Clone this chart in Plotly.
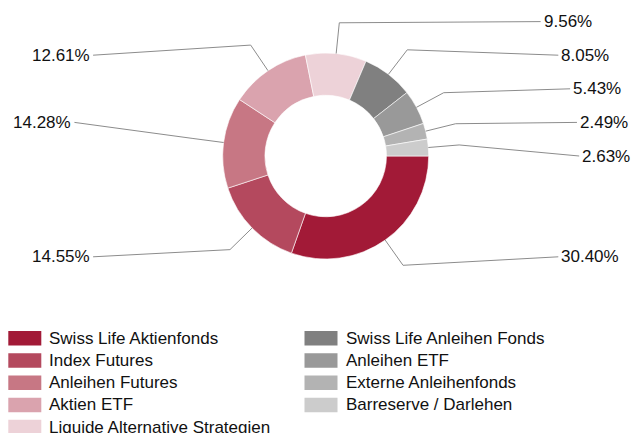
import math
import plotly.graph_objects as go

# ---------------- data ----------------
categories = [
    "Swiss Life Aktienfonds",
    "Index Futures",
    "Anleihen Futures",
    "Aktien ETF",
    "Liquide Alternative Strategien",
    "Swiss Life Anleihen Fonds",
    "Anleihen ETF",
    "Externe Anleihenfonds",
    "Barreserve / Darlehen",
]
values = [30.40, 14.55, 14.28, 12.61, 9.56, 8.05, 5.43, 2.49, 2.63]
colors = [
    "#A21A37", "#B4495E", "#C77784", "#DAA3AE", "#EDD2D8",
    "#808080", "#999999", "#B3B3B3", "#CCCCCC",
]

# ---------------- layout constants (pixels) ----------------
W, H = 634, 433
CX, CY, R = 325.7, 156.0, 103.0      # donut centre / outer radius
HOLE = 0.59
ELBOW_R = 1.30 * R                   # connector elbow radius
LABEL_R = 253.5                      # label anchor radius
SLOT_H = 33.6                        # vertical label slot spacing
FONT = "Liberation Sans, Arial, sans-serif"
FS = 17
LINE_COLOR = "#8c8c8c"


def px(x, y):
    return x / W, 1 - y / H


fig = go.Figure()
x0, y0 = px(CX - R, CY + R)
x1, y1 = px(CX + R, CY - R)
fig.add_trace(go.Pie(
    labels=categories,
    values=values,
    hole=HOLE,
    sort=False,
    direction="clockwise",
    rotation=90,
    marker=dict(colors=colors, line=dict(color="white", width=0.6)),
    textinfo="none",
    textposition="none",
    hoverinfo="label+percent",
    showlegend=False,
    domain=dict(x=[x0, x1], y=[y0, y1]),
))

# ---------------- outside labels with connectors ----------------
total = sum(values)
items = []
cum = 0.0
for i, v in enumerate(values):
    mid = (cum + v / 2) / total * 2 * math.pi  # clockwise from 3 o'clock
    cum += v
    ex, ey = CX + R * math.cos(mid), CY + R * math.sin(mid)
    bx, by = CX + ELBOW_R * math.cos(mid), CY + ELBOW_R * math.sin(mid)
    side = 1 if math.cos(mid) >= 0 else -1
    items.append(dict(i=i, v=v, ex=ex, ey=ey, bx=bx, by=by, side=side))

# assign labels to slots (nearest free), larger values first
for side in (1, -1):
    used = set()
    for it in sorted([t for t in items if t["side"] == side], key=lambda t: -t["v"]):
        k0 = round((it["by"] - CY) / SLOT_H)
        k = k0
        for d in range(0, 20):
            cand = [k0 + d, k0 - d] if (it["by"] - CY) / SLOT_H >= k0 else [k0 - d, k0 + d]
            found = None
            for c in cand:
                if c not in used and abs(c * SLOT_H) < LABEL_R:
                    found = c
                    break
            if found is not None:
                k = found
                break
        used.add(k)
        ly = CY + k * SLOT_H
        lx = CX + side * math.sqrt(LABEL_R ** 2 - (ly - CY) ** 2)
        it["lx"], it["ly"] = lx, ly

shapes = []
annotations = []
for it in items:
    pts = [(it["ex"], it["ey"]), (it["bx"], it["by"]), (it["lx"], it["ly"])]
    path = "M " + " L ".join(f"{px(a, b)[0]:.5f},{px(a, b)[1]:.5f}" for a, b in pts)
    shapes.append(dict(type="path", xref="paper", yref="paper", path=path,
                       line=dict(color=LINE_COLOR, width=1)))
    tx, ty = px(it["lx"] + it["side"] * 1, it["ly"])
    annotations.append(dict(
        x=tx, y=ty, xref="paper", yref="paper",
        text=f"{it['v']:.2f}%", showarrow=False,
        xanchor="left" if it["side"] > 0 else "right", yanchor="middle",
        font=dict(family=FONT, size=FS, color="#111111"),
    ))

# ---------------- custom two-column legend ----------------
LEG_COL_X = [8.3, 304.5]
LEG_TOP = 338.3
LEG_ROW = 22.2
SYM_W, SYM_H = 33.0, 14.5
per_col = math.ceil(len(categories) / 2)
for i, (name, col) in enumerate(zip(categories, colors)):
    c, r = divmod(i, per_col)
    sx = LEG_COL_X[c]
    sy = LEG_TOP + r * LEG_ROW
    ax0, ay0 = px(sx, sy - SYM_H / 2)
    ax1, ay1 = px(sx + SYM_W, sy + SYM_H / 2)
    shapes.append(dict(type="rect", xref="paper", yref="paper",
                       x0=ax0, x1=ax1, y0=ay1, y1=ay0,
                       fillcolor=col, line=dict(width=0)))
    tx, ty = px(sx + SYM_W + 6, sy)
    annotations.append(dict(
        x=tx, y=ty, xref="paper", yref="paper", text=name, showarrow=False,
        xanchor="left", yanchor="middle",
        font=dict(family=FONT, size=FS, color="#111111"),
    ))

fig.update_layout(
    width=W, height=H,
    margin=dict(l=0, r=0, t=0, b=0),
    paper_bgcolor="white", plot_bgcolor="white",
    shapes=shapes, annotations=annotations,
    showlegend=False,
    font=dict(family=FONT, size=FS),
)

fig.write_html("out.html", config={"displayModeBar": False})

# remove the default page margin so the figure sits at the window's corner
with open("out.html", "r", encoding="utf-8") as f:
    html = f.read()
html = html.replace("<body>", '<body style="margin:0;padding:0;overflow:hidden">', 1)
with open("out.html", "w", encoding="utf-8") as f:
    f.write(html)
